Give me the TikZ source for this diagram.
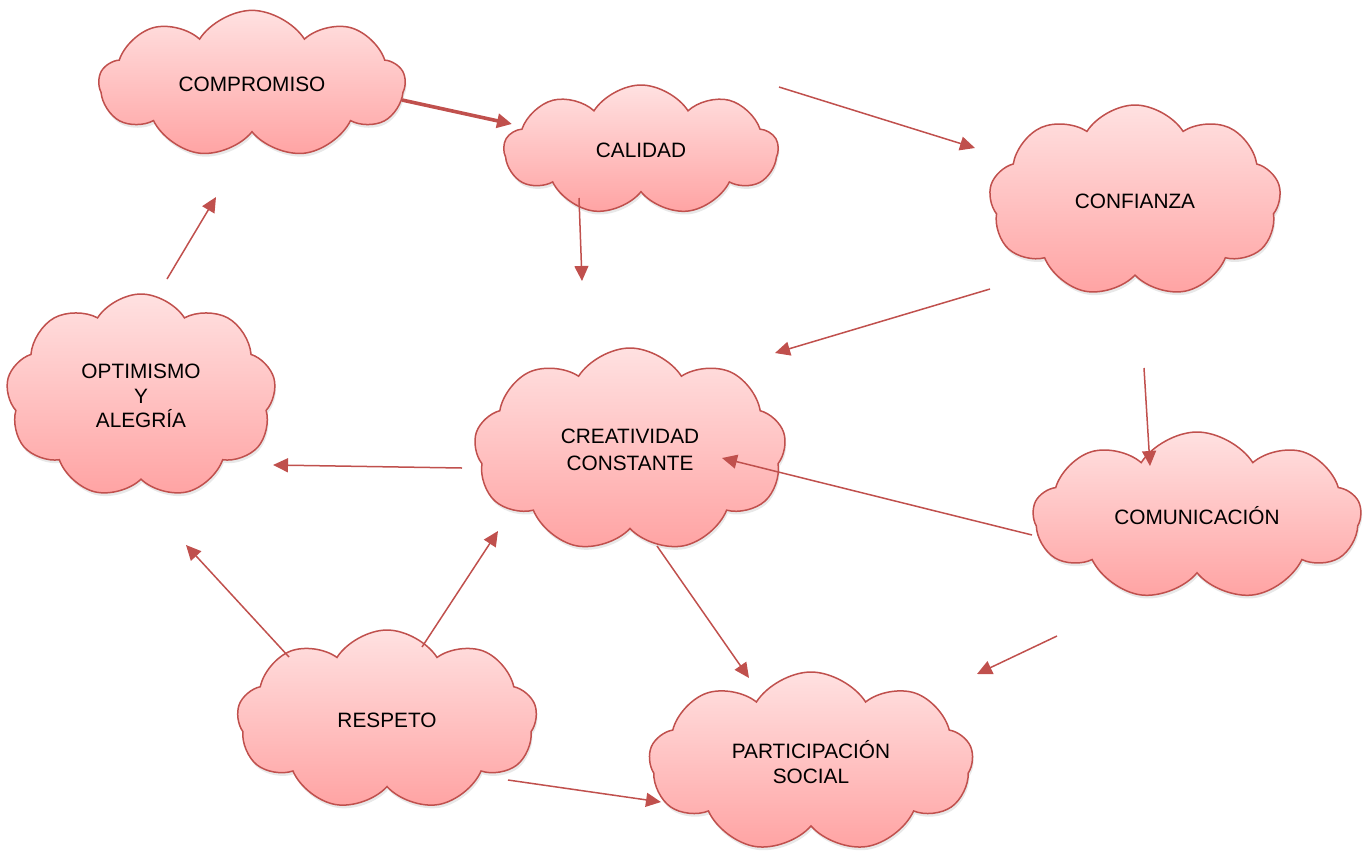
\documentclass[tikz,border=0pt]{standalone}
\usepackage{fontspec}
\setmainfont{Liberation Sans}
\usetikzlibrary{shapes.symbols,arrows.meta,shadows}

\definecolor{cloudtop}{HTML}{FFE1E1}
\definecolor{cloudbot}{HTML}{FFA3A3}
\definecolor{cloudline}{HTML}{C0504D}

\tikzset{
  idea/.style={cloud, cloud puffs=9, cloud puff arc=115, aspect=1.8,
    draw=cloudline, line width=0.75pt, top color=cloudtop, bottom color=cloudbot,
    drop shadow={opacity=0.18, shadow xshift=0.6pt, shadow yshift=-1.6pt},
    align=center, font=\fontsize{10.4}{12.3}\selectfont, inner sep=0pt},
  link/.style={draw=cloudline, line width=0.75pt, -{Triangle[length=7.5pt,width=7pt]}}
}

\begin{document}
\begin{tikzpicture}[x=0.5pt, y=-0.5pt]
	\useasboundingbox (0,0) rectangle (1366,853);
	% clouds
	\node [idea, minimum width=153pt, minimum height=71pt] (comp) at (252,84) {COMPROMISO};
	\node [idea, minimum width=137pt, minimum height=65pt] (cal) at (641,150) {CALIDAD};
	\node [idea, minimum width=146pt, minimum height=96pt, aspect=1.5] (conf) at (1135,201) {CONFIANZA};
	\node [idea, minimum width=135pt, minimum height=102pt, aspect=1.3] (opt) at (141,396) {OPTIMISMO\\Y\\ALEGRÍA};
	\node [idea, minimum width=156pt, minimum height=102pt, aspect=1.5,
	       font=\fontsize{10.4}{13.5}\selectfont] (cre) at (630,450) {CREATIVIDAD\\CONSTANTE};
	\node [idea, minimum width=164pt, minimum height=84pt, aspect=2] (com) at (1197,516) {COMUNICACIÓN};
	\node [idea, minimum width=150pt, minimum height=90pt, aspect=1.7] (resp) at (387,720) {RESPETO};
	\node [idea, minimum width=162pt, minimum height=90pt, aspect=1.8] (part) at (811,762) {PARTICIPACIÓN\\SOCIAL};
	% arrows
	\draw [link, line width=1.8pt] ([shift={(150,16)}]comp.center) -- ([shift={(-129,-26)}]cal.center);
	\draw [link] ([shift={(138,-63)}]cal.center) -- ([shift={(-160,-53)}]conf.center);
	\draw [link] ([shift={(-62,48)}]cal.center) -- ([shift={(-48,-169)}]cre.center);
	\draw [link] ([shift={(-145,88)}]conf.center) -- ([shift={(145,-97)}]cre.center);
	\draw [link] ([shift={(9,167)}]conf.center) -- ([shift={(-47,-50)}]com.center);
	\draw [link] ([shift={(-165,19)}]com.center) -- ([shift={(92,8)}]cre.center);
	\draw [link] ([shift={(-168,18)}]cre.center) -- ([shift={(132,69)}]opt.center);
	\draw [link] ([shift={(26,-117)}]opt.center) -- ([shift={(-36,113)}]comp.center);
	\draw [link] ([shift={(-98,-63)}]resp.center) -- ([shift={(45,149)}]opt.center);
	\draw [link] ([shift={(35,-73)}]resp.center) -- ([shift={(-132,81)}]cre.center);
	\draw [link] ([shift={(27,96)}]cre.center) -- ([shift={(-62,-84)}]part.center);
	\draw [link] ([shift={(-140,120)}]com.center) -- ([shift={(166,-88)}]part.center);
	\draw [link] ([shift={(121,60)}]resp.center) -- ([shift={(-150,40)}]part.center);
\end{tikzpicture}
\end{document}
